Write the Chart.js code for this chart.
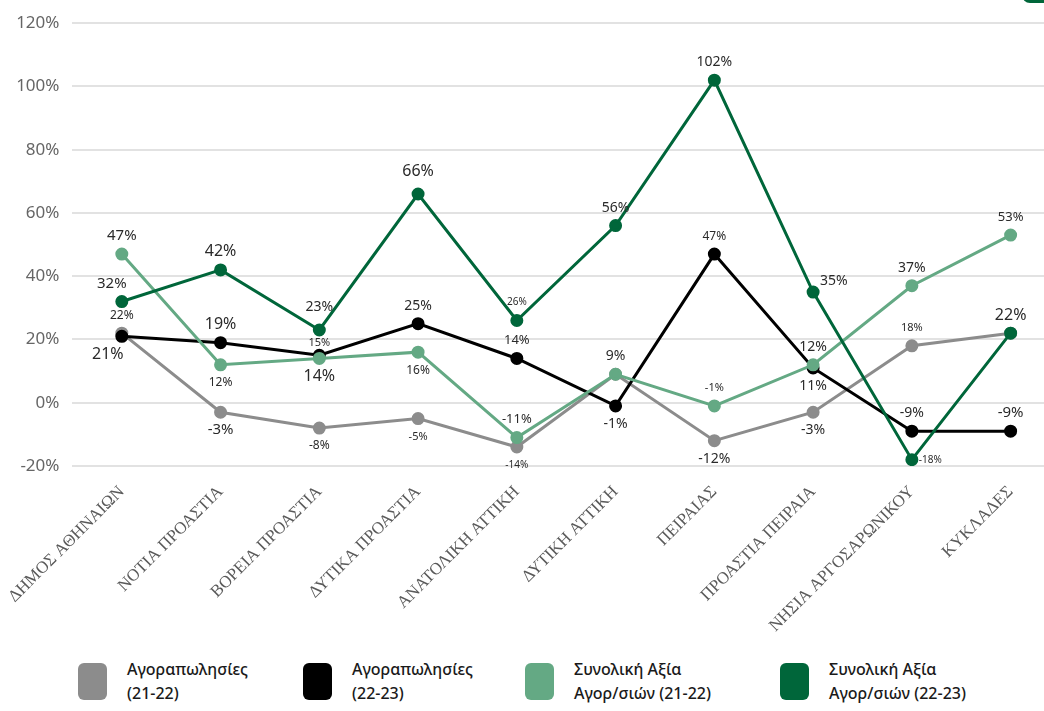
<!DOCTYPE html>
<html lang="el">
<head>
  <meta charset="UTF-8" />
  <title>Αγοραπωλησίες ανά περιοχή</title>
  <script src="https://cdn.jsdelivr.net/npm/chart.js"></script>
  <style>
    body {
      margin: 0;
      background: #fff;
      overflow: hidden;
      width: 1044px;
      height: 711px;
      position: relative;
    }
    #wrap {
      position: absolute;
      left: 0;
      top: 0;
      width: 1068px;
      height: 640px;
    }
    #legend {
      position: absolute;
      left: 78px;
      top: 657px;
      display: flex;
      font-family: "Noto Sans", sans-serif;
      font-size: 16px;
      font-weight: 500;
      line-height: 24px;
      color: #1a1a1a;
    }
    .item {
      display: flex;
      align-items: center;
    }
    .box {
      width: 29px;
      height: 37px;
      border-radius: 6px;
      margin-right: 20px;
      flex: none;
    }
    #corner {
      position: absolute;
      left: 1022px;
      top: -20px;
      width: 40px;
      height: 23px;
      border-radius: 8px;
      background: #00663a;
    }
  </style>
</head>
<body>
  <div id="corner"></div>
  <div id="wrap"><canvas id="chart" width="1068" height="640"></canvas></div>
  <div id="legend"></div>

  <script>
    const categories = [
      'ΔΗΜΟΣ ΑΘΗΝΑΙΩΝ', 'ΝΟΤΙΑ ΠΡΟΑΣΤΙΑ', 'ΒΟΡΕΙΑ ΠΡΟΑΣΤΙΑ', 'ΔΥΤΙΚΑ ΠΡΟΑΣΤΙΑ',
      'ΑΝΑΤΟΛΙΚΗ ΑΤΤΙΚΗ', 'ΔΥΤΙΚΗ ΑΤΤΙΚΗ', 'ΠΕΙΡΑΙΑΣ', 'ΠΡΟΑΣΤΙΑ ΠΕΙΡΑΙΑ',
      'ΝΗΣΙΑ ΑΡΓΟΣΑΡΩΝΙΚΟΥ', 'ΚΥΚΛΑΔΕΣ'
    ];
    const sales2122 = [22, -3, -8, -5, -14, 9, -12, -3, 18, 22];
    const sales2223 = [21, 19, 15, 25, 14, -1, 47, 11, -9, -9];
    const value2122 = [47, 12, 14, 16, -11, 9, -1, 12, 37, 53];
    const value2223 = [32, 42, 23, 66, 26, 56, 102, 35, -18, 22];
    const yMin = -20, yMax = 120, yStep = 20;

    // where each value label goes: [position, font size]; null = no label
    const labelsGray = [['a', 12], ['b', 15], ['b', 12], ['b', 11], ['b', 10], null, ['b', 14], ['b', 14], ['a', 11], null];
    const labelsBlack = [['bl', 16], ['a', 16], ['a1', 11], ['a', 14], ['a', 13], ['b', 14], ['a', 12], ['b', 14], ['a', 14], ['a', 15]];
    const labelsLight = [['a', 15], ['b', 12], ['b', 16], ['b', 12], ['a', 13], ['a', 14], ['a', 11], ['a', 14], ['a', 14], ['a', 13]];
    const labelsDark = [['al', 15], ['a', 16], ['a2', 14], ['a2', 16], ['a', 10], ['a', 14], ['a', 14], ['r', 14], ['r', 10], ['a', 16]];

    const series = [
      { name: ['Αγοραπωλησίες', '(21-22)'], data: sales2122, color: '#8c8c8c', labels: labelsGray, order: 3, w: 225 },
      { name: ['Αγοραπωλησίες', '(22-23)'], data: sales2223, color: '#000000', labels: labelsBlack, order: 2, w: 222 },
      { name: ['Συνολική Αξία', 'Αγορ/σιών (21-22)'], data: value2122, color: '#64a984', labels: labelsLight, order: 1, w: 255 },
      { name: ['Συνολική Αξία', 'Αγορ/σιών (22-23)'], data: value2223, color: '#00663a', labels: labelsDark, order: 0, w: 240 }
    ];

    const valueLabels = {
      id: 'valueLabels',
      afterDatasetsDraw(chart) {
        const ctx = chart.ctx;
        ctx.save();
        ctx.fillStyle = '#2a2a2a';
        chart.data.datasets.forEach((ds, i) => {
          const meta = chart.getDatasetMeta(i);
          meta.data.forEach((pt, j) => {
            const spec = ds.valueLabels[j];
            if (!spec) return;
            const [pos, size] = spec;
            ctx.font = size + 'px "Noto Sans", sans-serif';
            ctx.textBaseline = 'middle';
            let x = pt.x, y = pt.y;
            ctx.textAlign = 'center';
            if (pos === 'a') y -= 18;
            else if (pos === 'a1') y -= 12;
            else if (pos === 'a2') y -= 23;
            else if (pos === 'al') { y -= 18; x -= 10; }
            else if (pos === 'b') y += 18;
            else if (pos === 'bl') { y += 18; x -= 14; }
            else if (pos === 'r') {
              ctx.textAlign = 'left';
              x += 7;
              y -= size > 12 ? 11 : 0;
            }
            ctx.fillText(ds.data[j] + '%', x, y);
          });
        });
        ctx.restore();
      }
    };

    const ctx = document.getElementById('chart').getContext('2d');
    new Chart(ctx, {
      type: 'line',
      data: {
        labels: categories,
        datasets: series.map(s => ({
          label: s.name.join(' '),
          data: s.data,
          borderColor: s.color,
          backgroundColor: s.color,
          borderWidth: 3,
          pointRadius: 5,
          pointHoverRadius: 5,
          tension: 0,
          order: s.order,
          valueLabels: s.labels
        }))
      },
      options: {
        responsive: false,
        devicePixelRatio: 1,
        animation: false,
        layout: { padding: { top: 22, left: 0, right: 1, bottom: 0 } },
        plugins: {
          legend: { display: false },
          tooltip: { enabled: false }
        },
        scales: {
          x: {
            offset: true,
            grid: { display: false },
            border: { display: false },
            ticks: {
              color: '#5a5a5a',
              font: { family: '"Liberation Serif", serif', size: 17 },
              minRotation: 45,
              maxRotation: 45,
              padding: 8
            },
            afterFit(scale) { scale.height = 174; }
          },
          y: {
            min: yMin,
            max: yMax,
            grid: { color: '#e2e2e2', lineWidth: 2, drawTicks: false },
            border: { display: false },
            ticks: {
              stepSize: yStep,
              color: '#666',
              padding: 13,
              font: { family: '"Noto Sans", sans-serif', size: 17 },
              callback: v => v + '%'
            },
            afterFit(scale) { scale.width = 70; }
          }
        }
      },
      plugins: [valueLabels]
    });

    // legend in html so the labels can break on two lines
    const legend = document.getElementById('legend');
    series.forEach(s => {
      const item = document.createElement('div');
      item.className = 'item';
      item.style.width = s.w + 'px';
      const box = document.createElement('div');
      box.className = 'box';
      box.style.background = s.color;
      const text = document.createElement('div');
      text.innerHTML = s.name.join('<br>');
      item.appendChild(box);
      item.appendChild(text);
      legend.appendChild(item);
    });
  </script>
</body>
</html>
